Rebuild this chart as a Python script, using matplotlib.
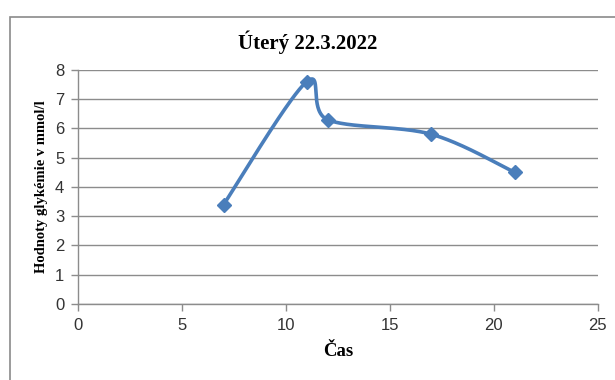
import numpy as np
import matplotlib
matplotlib.use("Agg")
import matplotlib.pyplot as plt
from matplotlib.patches import Rectangle

# Glycemia readings over the day
hours = [7, 11, 12, 17, 21]
glucose = [3.4, 7.6, 6.3, 5.8, 4.5]

title = "Úterý 22.3.2022"
x_label = "Čas"
y_label = "Hodnoty glykémie v mmol/l"
x_ticks = [0, 5, 10, 15, 20, 25]
y_ticks = [0, 1, 2, 3, 4, 5, 6, 7, 8]

line_color = "#4a7ebb"
grid_color = "#8c8c8c"


def smooth_curve(xs, ys, sx, sy, steps=60):
    """Bezier smoothing through the points (spreadsheet style), done in pixel space."""
    px = np.asarray(xs, float) * sx
    py = np.asarray(ys, float) * sy
    pts = np.column_stack([px, py])
    n = len(pts)
    out = [pts[0]]
    for i in range(n - 1):
        p0 = pts[i - 1] if i > 0 else pts[i]
        p1 = pts[i]
        p2 = pts[i + 1]
        p3 = pts[i + 2] if i + 2 < n else pts[i + 1]
        d12 = np.hypot(*(p2 - p1))
        d02 = np.hypot(*(p2 - p0))
        d13 = np.hypot(*(p3 - p1))
        f0 = 1 / 6 if d02 / 6 < d12 / 2 else d12 / 2 / d02
        f3 = 1 / 6 if d13 / 6 < d12 / 2 else d12 / 2 / d13
        c1 = p1 + f0 * (p2 - p0)
        c2 = p2 - f3 * (p3 - p1)
        t = np.linspace(0, 1, steps)[1:, None]
        seg = ((1 - t) ** 3 * p1 + 3 * (1 - t) ** 2 * t * c1
               + 3 * (1 - t) * t ** 2 * c2 + t ** 3 * p2)
        out.extend(seg)
    out = np.array(out)
    return out[:, 0] / sx, out[:, 1] / sy


fig = plt.figure(figsize=(6.15, 3.8), dpi=100)
ax = fig.add_axes([0.127, 0.2, 0.845, 0.616])

# chart frame, running off the right and bottom edges
fig.patches.append(Rectangle((10 / 615, -0.1), 1.2, 1 - 17 / 380 + 0.1,
                             transform=fig.transFigure, fill=False,
                             edgecolor="#8a8a8a", linewidth=1.2))

ax.set_xlim(0, 25)
ax.set_ylim(0, 8)

# pixels per data unit, so the smoothing follows the drawn shape
sx = 0.845 * 615 / 25
sy = 0.616 * 380 / 8
cx, cy = smooth_curve(hours, glucose, sx, sy)
ax.plot(cx, cy, color=line_color, linewidth=2.6, solid_capstyle="round", zorder=3)
ax.plot(hours, glucose, linestyle="none", marker="D", markersize=7.5,
        color=line_color, zorder=4)

ax.set_xticks(x_ticks)
ax.set_yticks(y_ticks)
ax.grid(axis="y", color=grid_color, linewidth=1)
ax.set_axisbelow(True)
for side in ("top", "right"):
    ax.spines[side].set_visible(False)
for side in ("left", "bottom"):
    ax.spines[side].set_color(grid_color)
    ax.spines[side].set_linewidth(1)
ax.tick_params(axis="both", color=grid_color, length=5, width=1,
               labelsize=12, labelcolor="#333333", pad=5)
for lbl in ax.get_xticklabels() + ax.get_yticklabels():
    lbl.set_fontfamily("Liberation Sans")

fig.text(0.5, 1 - 42 / 380, title, ha="center", va="center",
         fontfamily="Liberation Serif", fontweight="bold", fontsize=15)
ax.set_xlabel(x_label, fontfamily="Liberation Serif", fontweight="bold",
              fontsize=13.5, labelpad=7)
ax.set_ylabel(y_label, fontfamily="Liberation Serif", fontweight="bold",
              fontsize=10.5, labelpad=5)

fig.savefig("out.png", dpi=100)
